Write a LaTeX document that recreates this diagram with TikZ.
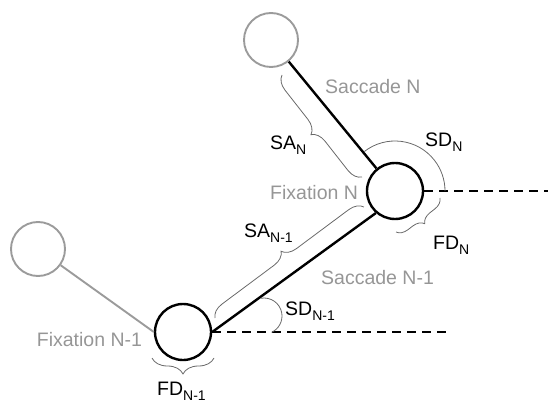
\documentclass[tikz,border=0pt]{standalone}
\usepackage{fontspec}
\setmainfont{Liberation Sans}
\usetikzlibrary{decorations.pathreplacing}
\definecolor{labelgray}{RGB}{150,150,150}
\definecolor{ringgray}{RGB}{155,155,155}
\definecolor{bracegray}{RGB}{105,105,105}
% lowered, smaller index after a label such as SA_N
\newcommand{\lowsub}[1]{\raisebox{-5pt}{\fontsize{14}{14}\selectfont #1}}

\begin{document}
\begin{tikzpicture}[x=1pt,y=-1pt,
  fix/.style={circle,draw=black,line width=2.4pt,minimum size=56pt,inner sep=0pt},
  prev/.style={circle,draw=ringgray,line width=1.9pt,minimum size=54pt,inner sep=0pt},
  sacc/.style={line width=2.4pt},
  refline/.style={line width=1.3pt,dash pattern=on 9pt off 6pt},
  thin/.style={draw=bracegray,line width=0.8pt},
  brc/.style={thin,decorate,decoration={brace,amplitude=#1}},
  lab/.style={font=\fontsize{19.5}{23}\selectfont,inner sep=0pt,anchor=base west},
  glab/.style={lab,text=labelgray}]
\useasboundingbox (0,0) rectangle (548,403);

% fixations
\node[prev] (p0) at (38,249) {};
\node[prev] (p2) at (271,40) {};
\node[fix] (f1) at (183,332) {};
\node[fix] (f2) at (395,191) {};

% saccades
\draw[ringgray,line width=1.9pt] (p0) -- (f1.west);
\draw[sacc] (f1.east) -- (f2.-131);
\draw[sacc] (f2) -- (p2);

% horizontal reference lines
\coordinate (r1) at (447,332);
\coordinate (r2) at (548,191);
\draw[refline] (f1.east) -- (r1);
\draw[refline] (f2.east) -- (r2);

% saccade direction angles
\draw[thin] (f2) ++(-128:50) arc[start angle=-128,end angle=0,radius=50];
\coordinate (sd1) at (264,316);
\draw[thin] (sd1) ++(-100:18) arc[start angle=-100,end angle=65,radius=18];

% amplitude and duration braces
\coordinate (a1) at (362,177);
\coordinate (a2) at (282,75);
\draw[brc=14pt] (a1) -- (a2);
\coordinate (b1) at (215,318);
\coordinate (b2) at (364,207);
\draw[brc=14pt] (b1) -- (b2);
\coordinate (c1) at (440,198);
\coordinate (c2) at (396,232);
\draw[brc=11pt] (c1) -- (c2);
\coordinate (d1) at (214,358);
\coordinate (d2) at (152,358);
\draw[brc=16pt] (d1) -- (d2);

% labels
\node[glab] (tsn) at (325,93.3) {Saccade N};
\node[glab] (tfn) at (270,200) {Fixation N};
\node[glab] (tfn1) at (36.7,346) {Fixation N-1};
\node[glab] (tsn1) at (321,284) {Saccade N-1};
\node[lab] (san) at (270,150) {SA\lowsub{N}};
\node[lab] (sdn) at (425,147) {SD\lowsub{N}};
\node[lab] (fdn) at (433,249.5) {FD\lowsub{N}};
\node[lab] (san1) at (244,237) {SA\lowsub{N-1}};
\node[lab] (sdn1) at (285,315.5) {SD\lowsub{N-1}};
\node[lab] (fdn1) at (157,395) {FD\lowsub{N-1}};
\end{tikzpicture}
\end{document}
